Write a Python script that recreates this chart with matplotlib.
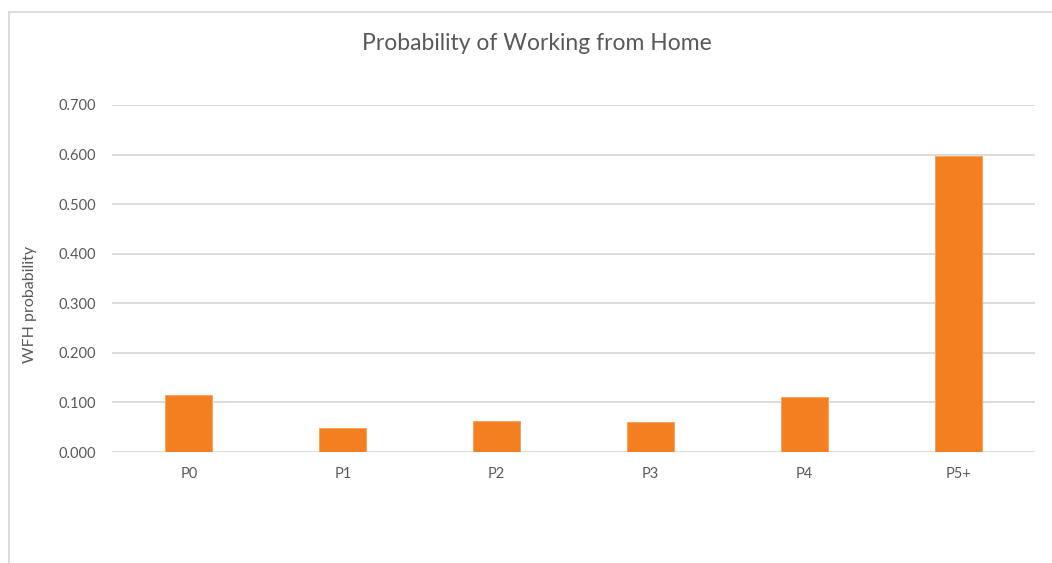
import numpy as np
import matplotlib.pyplot as plt
from matplotlib.lines import Line2D

# WFH probability per group
groups = ['P0', 'P1', 'P2', 'P3', 'P4', 'P5+']
wfh_prob = [0.115, 0.049, 0.063, 0.060, 0.110, 0.598]

plt.rcParams['font.family'] = ['Lato', 'DejaVu Sans']

W, H = 1052, 563
fig = plt.figure(figsize=(W / 100, H / 100), dpi=100)
fig.patch.set_facecolor('white')

ax = fig.add_axes([112 / W, 1 - 452 / H, (1035 - 112) / W, (452 - 105) / H])
x = np.arange(len(groups))
ax.bar(x, wfh_prob, width=0.305, color='#f47f20', edgecolor='#f8a05a',
       linewidth=0.6, zorder=3)

ax.set_xlim(-0.5, len(groups) - 0.5)
ax.set_ylim(0, 0.7)
ax.set_yticks(np.arange(0, 0.71, 0.1))
ax.set_yticklabels([f'{v:.3f}' for v in np.arange(0, 0.71, 0.1)])
ax.set_xticks(x)
ax.set_xticklabels(groups)

ax.grid(axis='y', color='#d9d9d9', linewidth=1.3, zorder=0)
ax.set_axisbelow(True)
for s in ax.spines.values():
    s.set_visible(False)
ax.tick_params(axis='both', length=0, labelsize=10.5, colors='#595959')
ax.tick_params(axis='y', pad=11.5)
ax.tick_params(axis='x', pad=10.5)

fig.text(537 / W, 1 - 43 / H, 'Probability of Working from Home',
         ha='center', va='center', fontsize=16.5, color='#595959')
fig.text(30 / W, 1 - 304 / H, 'WFH probability', rotation=90,
         ha='center', va='center', fontsize=11.5, color='#595959')

# chart frame (left and top edges)
fig.add_artist(Line2D([9.5 / W, 9.5 / W], [0, 1 - 12 / H],
                      transform=fig.transFigure, color='#d9d9d9', linewidth=1.3))
fig.add_artist(Line2D([9.5 / W, 1], [1 - 12 / H, 1 - 12 / H],
                      transform=fig.transFigure, color='#d9d9d9', linewidth=1.3))

fig.savefig('out.png', dpi=100)
